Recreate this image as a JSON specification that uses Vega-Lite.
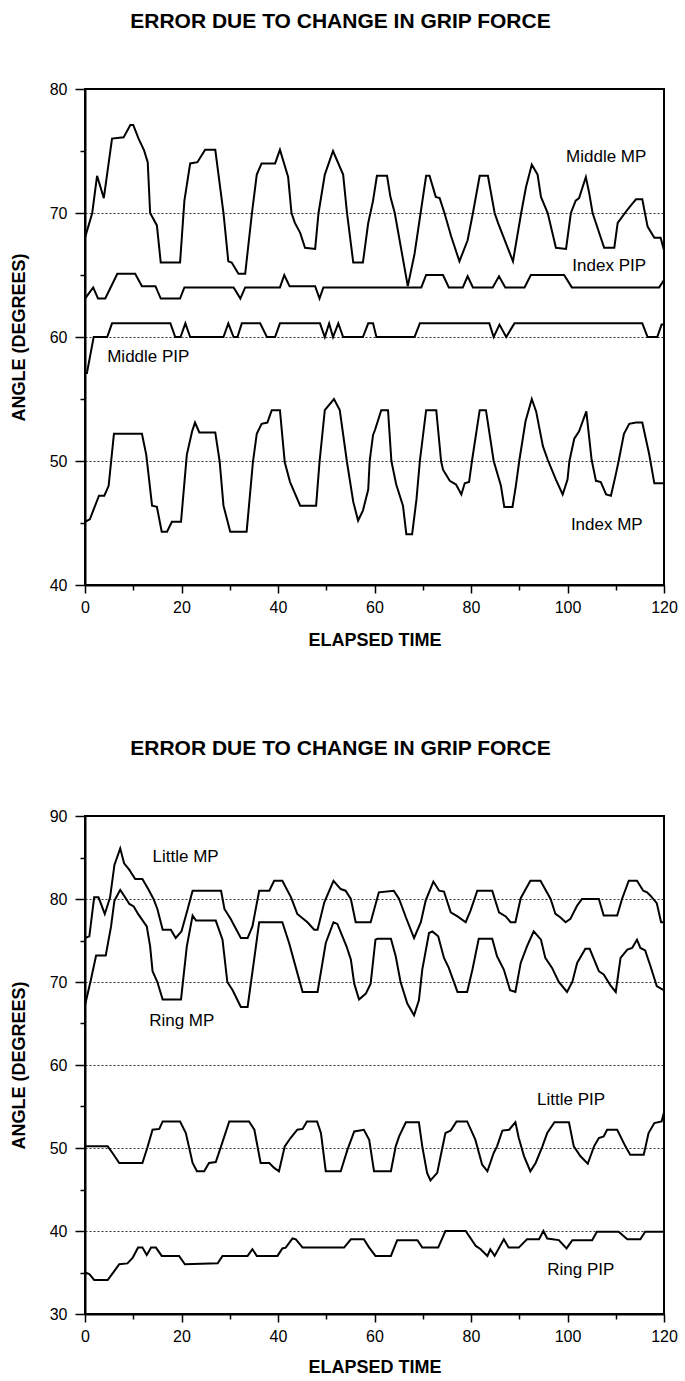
{
"$schema": "https://vega.github.io/schema/vega-lite/v6.json",
"background": "white",
"padding": {"left": 9, "top": 10, "right": 5, "bottom": 2},
"config": {
 "font": "Liberation Sans",
 "view": {"stroke": "black", "strokeWidth": 2},
 "axis": {"domainColor": "black", "domainWidth": 2, "tickColor": "black", "tickWidth": 1.5, "labelColor": "black", "titleColor": "black", "labelFontSize": 16, "labelFont": "Liberation Sans", "titleFont": "Liberation Sans", "titleFontSize": 18, "titleFontWeight": "bold", "labelFlush": false, "labelOverlap": false},
 "title": {"font": "Liberation Sans", "fontSize": 21, "fontWeight": "bold", "color": "black", "anchor": "middle", "frame": "group"}
},
"datasets": {
 "top": [
  {"s":"Middle MP","t":0,"v":68},{"s":"Middle MP","t":1.5,"v":70},{"s":"Middle MP","t":2.5,"v":73},{"s":"Middle MP","t":3.9,"v":71.2},{"s":"Middle MP","t":5.6,"v":76},{"s":"Middle MP","t":8,"v":76.1},{"s":"Middle MP","t":9.4,"v":77.1},{"s":"Middle MP","t":10,"v":77.1},{"s":"Middle MP","t":11.1,"v":76},{"s":"Middle MP","t":12.2,"v":75.1},{"s":"Middle MP","t":13,"v":74.1},{"s":"Middle MP","t":13.5,"v":70},{"s":"Middle MP","t":14.9,"v":69},{"s":"Middle MP","t":15.7,"v":66},{"s":"Middle MP","t":19.7,"v":66},{"s":"Middle MP","t":20.6,"v":71},{"s":"Middle MP","t":21.8,"v":74},{"s":"Middle MP","t":23.3,"v":74.1},{"s":"Middle MP","t":24.9,"v":75.1},{"s":"Middle MP","t":27,"v":75.1},{"s":"Middle MP","t":28.7,"v":70},{"s":"Middle MP","t":29.7,"v":66.1},{"s":"Middle MP","t":30.4,"v":66},{"s":"Middle MP","t":31.8,"v":65.1},{"s":"Middle MP","t":33.2,"v":65.1},{"s":"Middle MP","t":34.6,"v":70},{"s":"Middle MP","t":35.6,"v":73.1},{"s":"Middle MP","t":36.6,"v":74},{"s":"Middle MP","t":39.4,"v":74},{"s":"Middle MP","t":40.4,"v":75.1},{"s":"Middle MP","t":42.1,"v":72.9},{"s":"Middle MP","t":42.8,"v":70},{"s":"Middle MP","t":43.5,"v":69.2},{"s":"Middle MP","t":44.6,"v":68.4},{"s":"Middle MP","t":45.6,"v":67.2},{"s":"Middle MP","t":47.7,"v":67.1},{"s":"Middle MP","t":48.4,"v":70},{"s":"Middle MP","t":49.7,"v":73.1},{"s":"Middle MP","t":51.4,"v":75},{"s":"Middle MP","t":53.5,"v":73.1},{"s":"Middle MP","t":54.3,"v":70},{"s":"Middle MP","t":55.6,"v":66},{"s":"Middle MP","t":57.6,"v":66},{"s":"Middle MP","t":58.7,"v":69.2},{"s":"Middle MP","t":59.7,"v":71},{"s":"Middle MP","t":60.5,"v":73},{"s":"Middle MP","t":62.6,"v":73},{"s":"Middle MP","t":63.3,"v":71.3},{"s":"Middle MP","t":64.2,"v":70},{"s":"Middle MP","t":66.9,"v":64.1},{"s":"Middle MP","t":68.3,"v":66.7},{"s":"Middle MP","t":70.7,"v":73},{"s":"Middle MP","t":71.4,"v":73},{"s":"Middle MP","t":72.7,"v":71.3},{"s":"Middle MP","t":73.5,"v":71.2},{"s":"Middle MP","t":74.5,"v":70},{"s":"Middle MP","t":75.9,"v":68.1},{"s":"Middle MP","t":77.6,"v":66.1},{"s":"Middle MP","t":79.3,"v":67.8},{"s":"Middle MP","t":80.4,"v":70},{"s":"Middle MP","t":81.8,"v":73},{"s":"Middle MP","t":83.5,"v":73},{"s":"Middle MP","t":84.9,"v":70},{"s":"Middle MP","t":85.6,"v":69.2},{"s":"Middle MP","t":88.7,"v":66.1},{"s":"Middle MP","t":90.4,"v":70},{"s":"Middle MP","t":91.4,"v":72.1},{"s":"Middle MP","t":92.6,"v":73.9},{"s":"Middle MP","t":93.8,"v":73.1},{"s":"Middle MP","t":94.5,"v":71.3},{"s":"Middle MP","t":95.9,"v":70},{"s":"Middle MP","t":97.6,"v":67.2},{"s":"Middle MP","t":99.7,"v":67.1},{"s":"Middle MP","t":100.7,"v":70},{"s":"Middle MP","t":101.7,"v":71},{"s":"Middle MP","t":102.4,"v":71.2},{"s":"Middle MP","t":103.8,"v":72.9},{"s":"Middle MP","t":104.5,"v":71.6},{"s":"Middle MP","t":105.2,"v":70},{"s":"Middle MP","t":107.6,"v":67.2},{"s":"Middle MP","t":109.7,"v":67.2},{"s":"Middle MP","t":110.4,"v":69.2},{"s":"Middle MP","t":112.1,"v":70.1},{"s":"Middle MP","t":113.1,"v":70.6},{"s":"Middle MP","t":114.2,"v":71.1},{"s":"Middle MP","t":115.5,"v":71.1},{"s":"Middle MP","t":116.6,"v":68.9},{"s":"Middle MP","t":118,"v":68},{"s":"Middle MP","t":119.3,"v":68},{"s":"Middle MP","t":120,"v":67},
  {"s":"Index PIP","t":0,"v":63.1},{"s":"Index PIP","t":1.7,"v":64},{"s":"Index PIP","t":2.7,"v":63.1},{"s":"Index PIP","t":4.2,"v":63.1},{"s":"Index PIP","t":6.7,"v":65.1},{"s":"Index PIP","t":10.4,"v":65.1},{"s":"Index PIP","t":11.8,"v":64.1},{"s":"Index PIP","t":14.6,"v":64.1},{"s":"Index PIP","t":15.7,"v":63.1},{"s":"Index PIP","t":19.7,"v":63.1},{"s":"Index PIP","t":20.6,"v":64},{"s":"Index PIP","t":30.8,"v":64},{"s":"Index PIP","t":32.2,"v":63.1},{"s":"Index PIP","t":33.2,"v":64},{"s":"Index PIP","t":40.4,"v":64},{"s":"Index PIP","t":41.3,"v":65},{"s":"Index PIP","t":42.4,"v":64.1},{"s":"Index PIP","t":47.7,"v":64.1},{"s":"Index PIP","t":48.6,"v":63.1},{"s":"Index PIP","t":49.4,"v":64},{"s":"Index PIP","t":69.7,"v":64},{"s":"Index PIP","t":70.7,"v":65},{"s":"Index PIP","t":74.2,"v":65},{"s":"Index PIP","t":75.4,"v":64},{"s":"Index PIP","t":78.3,"v":64},{"s":"Index PIP","t":79.3,"v":64.9},{"s":"Index PIP","t":80.4,"v":64},{"s":"Index PIP","t":84.5,"v":64},{"s":"Index PIP","t":85.8,"v":64.9},{"s":"Index PIP","t":87.1,"v":64},{"s":"Index PIP","t":91.1,"v":64},{"s":"Index PIP","t":92.4,"v":65},{"s":"Index PIP","t":99.3,"v":65},{"s":"Index PIP","t":100.9,"v":64},{"s":"Index PIP","t":119,"v":64},{"s":"Index PIP","t":120,"v":64.6},
  {"s":"Middle PIP","t":0,"v":57.1},{"s":"Middle PIP","t":0.4,"v":57.1},{"s":"Middle PIP","t":1.8,"v":60},{"s":"Middle PIP","t":4.6,"v":60},{"s":"Middle PIP","t":5.6,"v":61.1},{"s":"Middle PIP","t":17.7,"v":61.1},{"s":"Middle PIP","t":18.7,"v":60},{"s":"Middle PIP","t":19.8,"v":60},{"s":"Middle PIP","t":20.8,"v":61.1},{"s":"Middle PIP","t":21.8,"v":60},{"s":"Middle PIP","t":28.7,"v":60},{"s":"Middle PIP","t":29.7,"v":61.1},{"s":"Middle PIP","t":30.8,"v":60},{"s":"Middle PIP","t":31.6,"v":60},{"s":"Middle PIP","t":32.5,"v":61.1},{"s":"Middle PIP","t":36.3,"v":61.1},{"s":"Middle PIP","t":37.7,"v":60},{"s":"Middle PIP","t":39.4,"v":60},{"s":"Middle PIP","t":40.4,"v":61.1},{"s":"Middle PIP","t":48.7,"v":61.1},{"s":"Middle PIP","t":49.7,"v":60},{"s":"Middle PIP","t":50.6,"v":61.1},{"s":"Middle PIP","t":51.4,"v":60},{"s":"Middle PIP","t":52.5,"v":61.1},{"s":"Middle PIP","t":53.5,"v":60},{"s":"Middle PIP","t":57.6,"v":60},{"s":"Middle PIP","t":58.7,"v":61.1},{"s":"Middle PIP","t":59.7,"v":61.1},{"s":"Middle PIP","t":60.4,"v":60},{"s":"Middle PIP","t":68.3,"v":60},{"s":"Middle PIP","t":69.4,"v":61.1},{"s":"Middle PIP","t":83.8,"v":61.1},{"s":"Middle PIP","t":84.7,"v":60},{"s":"Middle PIP","t":85.9,"v":61},{"s":"Middle PIP","t":87.3,"v":60},{"s":"Middle PIP","t":89,"v":61.1},{"s":"Middle PIP","t":115.5,"v":61.1},{"s":"Middle PIP","t":116.6,"v":60},{"s":"Middle PIP","t":118.6,"v":60},{"s":"Middle PIP","t":119.5,"v":61},{"s":"Middle PIP","t":120,"v":61},
  {"s":"Index MP","t":0,"v":45.1},{"s":"Index MP","t":1,"v":45.3},{"s":"Index MP","t":2.9,"v":47.2},{"s":"Index MP","t":4,"v":47.2},{"s":"Index MP","t":4.9,"v":48},{"s":"Index MP","t":6,"v":52.2},{"s":"Index MP","t":11.8,"v":52.2},{"s":"Index MP","t":12.7,"v":50.5},{"s":"Index MP","t":13.9,"v":46.4},{"s":"Index MP","t":14.9,"v":46.3},{"s":"Index MP","t":15.9,"v":44.3},{"s":"Index MP","t":17,"v":44.3},{"s":"Index MP","t":18,"v":45.1},{"s":"Index MP","t":19.9,"v":45.1},{"s":"Index MP","t":21.1,"v":50.5},{"s":"Index MP","t":22.2,"v":52.4},{"s":"Index MP","t":22.8,"v":53.1},{"s":"Index MP","t":23.7,"v":52.3},{"s":"Index MP","t":27,"v":52.3},{"s":"Index MP","t":27.9,"v":50},{"s":"Index MP","t":28.7,"v":46.4},{"s":"Index MP","t":30.1,"v":44.3},{"s":"Index MP","t":33.5,"v":44.3},{"s":"Index MP","t":34.8,"v":49.9},{"s":"Index MP","t":35.6,"v":52.2},{"s":"Index MP","t":36.6,"v":53},{"s":"Index MP","t":37.8,"v":53.1},{"s":"Index MP","t":38.7,"v":54.1},{"s":"Index MP","t":40.4,"v":54.1},{"s":"Index MP","t":41.4,"v":49.9},{"s":"Index MP","t":42.5,"v":48.3},{"s":"Index MP","t":44.6,"v":46.4},{"s":"Index MP","t":47.9,"v":46.4},{"s":"Index MP","t":48.6,"v":49.9},{"s":"Index MP","t":49.7,"v":54.1},{"s":"Index MP","t":51.6,"v":55},{"s":"Index MP","t":52.8,"v":54.1},{"s":"Index MP","t":54.3,"v":49.9},{"s":"Index MP","t":55.6,"v":46.7},{"s":"Index MP","t":56.6,"v":45.2},{"s":"Index MP","t":57.6,"v":46},{"s":"Index MP","t":58.7,"v":47.7},{"s":"Index MP","t":59,"v":50},{"s":"Index MP","t":59.7,"v":52.1},{"s":"Index MP","t":60.1,"v":52.5},{"s":"Index MP","t":61.4,"v":54.1},{"s":"Index MP","t":62.8,"v":54.1},{"s":"Index MP","t":63.5,"v":50},{"s":"Index MP","t":64.5,"v":48.1},{"s":"Index MP","t":65.9,"v":46.4},{"s":"Index MP","t":66.6,"v":44.1},{"s":"Index MP","t":67.8,"v":44.1},{"s":"Index MP","t":68.7,"v":46.9},{"s":"Index MP","t":69.4,"v":50},{"s":"Index MP","t":70.7,"v":54.1},{"s":"Index MP","t":72.8,"v":54.1},{"s":"Index MP","t":73.8,"v":50},{"s":"Index MP","t":74.2,"v":49.3},{"s":"Index MP","t":75.6,"v":48.4},{"s":"Index MP","t":76.9,"v":48.1},{"s":"Index MP","t":78,"v":47.3},{"s":"Index MP","t":78.7,"v":48.2},{"s":"Index MP","t":79.6,"v":48.3},{"s":"Index MP","t":80.2,"v":50},{"s":"Index MP","t":81.8,"v":54.1},{"s":"Index MP","t":83.1,"v":54.1},{"s":"Index MP","t":84.7,"v":50},{"s":"Index MP","t":86.2,"v":48},{"s":"Index MP","t":86.9,"v":46.3},{"s":"Index MP","t":88.6,"v":46.3},{"s":"Index MP","t":89.3,"v":48},{"s":"Index MP","t":90,"v":50},{"s":"Index MP","t":91.3,"v":53.2},{"s":"Index MP","t":92.6,"v":55},{"s":"Index MP","t":93.5,"v":54},{"s":"Index MP","t":94.9,"v":51.2},{"s":"Index MP","t":95.9,"v":50.1},{"s":"Index MP","t":97.6,"v":48.5},{"s":"Index MP","t":99,"v":47.3},{"s":"Index MP","t":100,"v":48.5},{"s":"Index MP","t":100.4,"v":50},{"s":"Index MP","t":101.4,"v":51.8},{"s":"Index MP","t":102.4,"v":52.4},{"s":"Index MP","t":103.9,"v":54},{"s":"Index MP","t":105,"v":50.1},{"s":"Index MP","t":105.9,"v":48.4},{"s":"Index MP","t":106.9,"v":48.3},{"s":"Index MP","t":108,"v":47.3},{"s":"Index MP","t":109,"v":47.2},{"s":"Index MP","t":110,"v":48.9},{"s":"Index MP","t":110.6,"v":50},{"s":"Index MP","t":111.7,"v":52.2},{"s":"Index MP","t":112.8,"v":53},{"s":"Index MP","t":114.2,"v":53.1},{"s":"Index MP","t":115.5,"v":53.1},{"s":"Index MP","t":116.9,"v":50.6},{"s":"Index MP","t":118,"v":48.2},{"s":"Index MP","t":120,"v":48.2}
 ],
 "topLabels": [
  {"s":"Middle MP","t":99.7,"v":74.5},{"s":"Index PIP","t":101,"v":65.7},{"s":"Middle PIP","t":4.6,"v":58.35},{"s":"Index MP","t":100.7,"v":44.85}
 ],
 "bottom": [
  {"s":"Little MP","t":0,"v":75.3},{"s":"Little MP","t":0.9,"v":75.5},{"s":"Little MP","t":1.9,"v":80.2},{"s":"Little MP","t":2.8,"v":80.2},{"s":"Little MP","t":4.1,"v":78.2},{"s":"Little MP","t":5.2,"v":80.2},{"s":"Little MP","t":6.1,"v":84.1},{"s":"Little MP","t":7.3,"v":86.1},{"s":"Little MP","t":8.1,"v":84.3},{"s":"Little MP","t":9.2,"v":83.5},{"s":"Little MP","t":10.4,"v":82.4},{"s":"Little MP","t":11.9,"v":82.4},{"s":"Little MP","t":13.1,"v":81.2},{"s":"Little MP","t":14.2,"v":80},{"s":"Little MP","t":15,"v":78.8},{"s":"Little MP","t":16.1,"v":76.3},{"s":"Little MP","t":17.8,"v":76.3},{"s":"Little MP","t":18.8,"v":75.3},{"s":"Little MP","t":20,"v":76.1},{"s":"Little MP","t":21.1,"v":78.4},{"s":"Little MP","t":22.3,"v":81},{"s":"Little MP","t":28.2,"v":81},{"s":"Little MP","t":28.9,"v":78.8},{"s":"Little MP","t":30.2,"v":77.6},{"s":"Little MP","t":32.3,"v":75.3},{"s":"Little MP","t":33.7,"v":75.3},{"s":"Little MP","t":34.7,"v":76.7},{"s":"Little MP","t":36.1,"v":81},{"s":"Little MP","t":38.2,"v":81},{"s":"Little MP","t":39.2,"v":82.2},{"s":"Little MP","t":40.9,"v":82.2},{"s":"Little MP","t":42.7,"v":80.2},{"s":"Little MP","t":44,"v":78.2},{"s":"Little MP","t":46.1,"v":77.2},{"s":"Little MP","t":47.5,"v":76.3},{"s":"Little MP","t":48.2,"v":76.3},{"s":"Little MP","t":49.6,"v":79.6},{"s":"Little MP","t":51.5,"v":82.2},{"s":"Little MP","t":53,"v":81.2},{"s":"Little MP","t":54,"v":81},{"s":"Little MP","t":55.1,"v":80},{"s":"Little MP","t":56.1,"v":77.2},{"s":"Little MP","t":59.2,"v":77.2},{"s":"Little MP","t":60.9,"v":80.8},{"s":"Little MP","t":64,"v":81},{"s":"Little MP","t":65.1,"v":80},{"s":"Little MP","t":66.5,"v":77.8},{"s":"Little MP","t":68.2,"v":75.3},{"s":"Little MP","t":69.6,"v":77.2},{"s":"Little MP","t":70.6,"v":79.8},{"s":"Little MP","t":72.2,"v":82.1},{"s":"Little MP","t":73.4,"v":81},{"s":"Little MP","t":74.4,"v":80.9},{"s":"Little MP","t":75.8,"v":78.4},{"s":"Little MP","t":77.2,"v":77.9},{"s":"Little MP","t":78.9,"v":77.2},{"s":"Little MP","t":79.9,"v":78.6},{"s":"Little MP","t":81.3,"v":81},{"s":"Little MP","t":84.4,"v":81},{"s":"Little MP","t":85.8,"v":78.4},{"s":"Little MP","t":87.2,"v":77.9},{"s":"Little MP","t":88.2,"v":77.2},{"s":"Little MP","t":89.2,"v":77.2},{"s":"Little MP","t":90.3,"v":80.1},{"s":"Little MP","t":92.3,"v":82.2},{"s":"Little MP","t":94.4,"v":82.2},{"s":"Little MP","t":96.5,"v":80},{"s":"Little MP","t":97.5,"v":78.2},{"s":"Little MP","t":98.5,"v":77.8},{"s":"Little MP","t":99.6,"v":77.2},{"s":"Little MP","t":100.6,"v":77.6},{"s":"Little MP","t":102,"v":79.2},{"s":"Little MP","t":103,"v":80},{"s":"Little MP","t":106.5,"v":80},{"s":"Little MP","t":107.5,"v":78},{"s":"Little MP","t":110.3,"v":78},{"s":"Little MP","t":111.3,"v":80},{"s":"Little MP","t":112.7,"v":82.2},{"s":"Little MP","t":114.4,"v":82.2},{"s":"Little MP","t":115.7,"v":81},{"s":"Little MP","t":116.5,"v":80.8},{"s":"Little MP","t":117.2,"v":80.4},{"s":"Little MP","t":118.5,"v":79.5},{"s":"Little MP","t":119.4,"v":77.2},{"s":"Little MP","t":120,"v":77.2},
  {"s":"Ring MP","t":0,"v":67.2},{"s":"Ring MP","t":1.2,"v":70.2},{"s":"Ring MP","t":2.3,"v":73.2},{"s":"Ring MP","t":4.3,"v":73.2},{"s":"Ring MP","t":5.4,"v":76.7},{"s":"Ring MP","t":6.1,"v":79.8},{"s":"Ring MP","t":7.3,"v":81.1},{"s":"Ring MP","t":8.1,"v":80.4},{"s":"Ring MP","t":9.2,"v":79.4},{"s":"Ring MP","t":10.1,"v":79.1},{"s":"Ring MP","t":11,"v":78.2},{"s":"Ring MP","t":12.8,"v":76.7},{"s":"Ring MP","t":13.5,"v":74.3},{"s":"Ring MP","t":14,"v":71.3},{"s":"Ring MP","t":15,"v":70},{"s":"Ring MP","t":16.1,"v":67.9},{"s":"Ring MP","t":19.9,"v":67.9},{"s":"Ring MP","t":21.1,"v":74.3},{"s":"Ring MP","t":22.3,"v":78},{"s":"Ring MP","t":23,"v":77.4},{"s":"Ring MP","t":27.1,"v":77.4},{"s":"Ring MP","t":28.5,"v":75.1},{"s":"Ring MP","t":29.5,"v":70},{"s":"Ring MP","t":30.6,"v":69},{"s":"Ring MP","t":32.3,"v":67},{"s":"Ring MP","t":33.7,"v":67},{"s":"Ring MP","t":35.1,"v":72.9},{"s":"Ring MP","t":36.1,"v":77.2},{"s":"Ring MP","t":40.9,"v":77.2},{"s":"Ring MP","t":42.3,"v":74.7},{"s":"Ring MP","t":44,"v":71.1},{"s":"Ring MP","t":45.1,"v":68.8},{"s":"Ring MP","t":48.2,"v":68.8},{"s":"Ring MP","t":49.9,"v":74.7},{"s":"Ring MP","t":51.5,"v":77.2},{"s":"Ring MP","t":52.3,"v":77},{"s":"Ring MP","t":54.2,"v":74.3},{"s":"Ring MP","t":55.1,"v":72.7},{"s":"Ring MP","t":55.8,"v":69.8},{"s":"Ring MP","t":56.8,"v":67.9},{"s":"Ring MP","t":58.2,"v":68.6},{"s":"Ring MP","t":59.2,"v":69.8},{"s":"Ring MP","t":60.2,"v":75.1},{"s":"Ring MP","t":60.6,"v":75.2},{"s":"Ring MP","t":63.4,"v":75.2},{"s":"Ring MP","t":64.4,"v":73.1},{"s":"Ring MP","t":65.4,"v":70},{"s":"Ring MP","t":66.8,"v":67.4},{"s":"Ring MP","t":68.2,"v":66},{"s":"Ring MP","t":69.2,"v":67.8},{"s":"Ring MP","t":69.9,"v":71.5},{"s":"Ring MP","t":71.3,"v":75.9},{"s":"Ring MP","t":72,"v":76.1},{"s":"Ring MP","t":73.2,"v":75.5},{"s":"Ring MP","t":74.4,"v":72.9},{"s":"Ring MP","t":75.4,"v":71.7},{"s":"Ring MP","t":77.2,"v":68.8},{"s":"Ring MP","t":79.2,"v":68.8},{"s":"Ring MP","t":80.3,"v":71.5},{"s":"Ring MP","t":81.6,"v":75.2},{"s":"Ring MP","t":84.4,"v":75.2},{"s":"Ring MP","t":85.4,"v":73.1},{"s":"Ring MP","t":86.8,"v":71.5},{"s":"Ring MP","t":88.1,"v":69},{"s":"Ring MP","t":89.2,"v":68.8},{"s":"Ring MP","t":90.3,"v":72.3},{"s":"Ring MP","t":91.6,"v":74.3},{"s":"Ring MP","t":93,"v":76.1},{"s":"Ring MP","t":94.5,"v":75.1},{"s":"Ring MP","t":95.4,"v":72.9},{"s":"Ring MP","t":96.8,"v":71.7},{"s":"Ring MP","t":98.2,"v":70},{"s":"Ring MP","t":99.9,"v":68.8},{"s":"Ring MP","t":101,"v":70},{"s":"Ring MP","t":102,"v":72.3},{"s":"Ring MP","t":103.7,"v":74},{"s":"Ring MP","t":104.6,"v":74},{"s":"Ring MP","t":106.5,"v":71.3},{"s":"Ring MP","t":107.5,"v":70.9},{"s":"Ring MP","t":108.9,"v":69.6},{"s":"Ring MP","t":110,"v":68.8},{"s":"Ring MP","t":111,"v":72.9},{"s":"Ring MP","t":112.4,"v":73.9},{"s":"Ring MP","t":113.4,"v":74.1},{"s":"Ring MP","t":114.4,"v":75.1},{"s":"Ring MP","t":115.1,"v":74.1},{"s":"Ring MP","t":116.1,"v":73.8},{"s":"Ring MP","t":117.2,"v":71.9},{"s":"Ring MP","t":118.5,"v":69.5},{"s":"Ring MP","t":120,"v":69},
  {"s":"Little PIP","t":0,"v":50.2},{"s":"Little PIP","t":4.7,"v":50.2},{"s":"Little PIP","t":5.7,"v":49.4},{"s":"Little PIP","t":7.1,"v":48.2},{"s":"Little PIP","t":11.9,"v":48.2},{"s":"Little PIP","t":12.9,"v":50},{"s":"Little PIP","t":14,"v":52.2},{"s":"Little PIP","t":15.4,"v":52.3},{"s":"Little PIP","t":16.1,"v":53.2},{"s":"Little PIP","t":19.7,"v":53.2},{"s":"Little PIP","t":20.9,"v":51.8},{"s":"Little PIP","t":22.3,"v":48.2},{"s":"Little PIP","t":23.2,"v":47.2},{"s":"Little PIP","t":24.7,"v":47.2},{"s":"Little PIP","t":25.7,"v":48.2},{"s":"Little PIP","t":27.1,"v":48.3},{"s":"Little PIP","t":28.2,"v":50.2},{"s":"Little PIP","t":29.9,"v":53.2},{"s":"Little PIP","t":34,"v":53.2},{"s":"Little PIP","t":35.1,"v":52.2},{"s":"Little PIP","t":36.4,"v":48.2},{"s":"Little PIP","t":38.2,"v":48.2},{"s":"Little PIP","t":39.2,"v":47.6},{"s":"Little PIP","t":40.2,"v":47.2},{"s":"Little PIP","t":41.4,"v":50.2},{"s":"Little PIP","t":42.6,"v":51.2},{"s":"Little PIP","t":44,"v":52.2},{"s":"Little PIP","t":45.1,"v":52.3},{"s":"Little PIP","t":46,"v":53.2},{"s":"Little PIP","t":48.1,"v":53.2},{"s":"Little PIP","t":48.9,"v":51.8},{"s":"Little PIP","t":49.9,"v":47.2},{"s":"Little PIP","t":53,"v":47.2},{"s":"Little PIP","t":54.4,"v":49.8},{"s":"Little PIP","t":55.8,"v":52},{"s":"Little PIP","t":57.8,"v":52.2},{"s":"Little PIP","t":58.9,"v":51},{"s":"Little PIP","t":59.9,"v":47.2},{"s":"Little PIP","t":63.4,"v":47.2},{"s":"Little PIP","t":64.4,"v":50.2},{"s":"Little PIP","t":65.1,"v":51.4},{"s":"Little PIP","t":66.5,"v":53.1},{"s":"Little PIP","t":69.2,"v":53.1},{"s":"Little PIP","t":69.9,"v":50.2},{"s":"Little PIP","t":70.9,"v":47},{"s":"Little PIP","t":71.6,"v":46.1},{"s":"Little PIP","t":73,"v":47},{"s":"Little PIP","t":73.7,"v":49},{"s":"Little PIP","t":74.7,"v":51.8},{"s":"Little PIP","t":75.8,"v":52.1},{"s":"Little PIP","t":77,"v":53.2},{"s":"Little PIP","t":79.2,"v":53.2},{"s":"Little PIP","t":80.9,"v":51},{"s":"Little PIP","t":82.3,"v":48},{"s":"Little PIP","t":83.4,"v":47.2},{"s":"Little PIP","t":84.7,"v":49.4},{"s":"Little PIP","t":85.4,"v":50.2},{"s":"Little PIP","t":86.5,"v":52.1},{"s":"Little PIP","t":87.9,"v":52.2},{"s":"Little PIP","t":89.2,"v":53.1},{"s":"Little PIP","t":89.9,"v":51.2},{"s":"Little PIP","t":91,"v":49},{"s":"Little PIP","t":92.3,"v":47.2},{"s":"Little PIP","t":93.4,"v":48.2},{"s":"Little PIP","t":94.8,"v":50.2},{"s":"Little PIP","t":95.8,"v":51.8},{"s":"Little PIP","t":97.3,"v":53.1},{"s":"Little PIP","t":100.3,"v":53.1},{"s":"Little PIP","t":101.3,"v":50.2},{"s":"Little PIP","t":102.7,"v":49},{"s":"Little PIP","t":104.2,"v":48.1},{"s":"Little PIP","t":105.5,"v":50.2},{"s":"Little PIP","t":106.5,"v":51.2},{"s":"Little PIP","t":107.5,"v":51.4},{"s":"Little PIP","t":108.2,"v":52.2},{"s":"Little PIP","t":110.3,"v":52.2},{"s":"Little PIP","t":112,"v":50.2},{"s":"Little PIP","t":113,"v":49.2},{"s":"Little PIP","t":115.8,"v":49.2},{"s":"Little PIP","t":116.8,"v":51.8},{"s":"Little PIP","t":118,"v":53},{"s":"Little PIP","t":119.5,"v":53.2},{"s":"Little PIP","t":120,"v":54.3},
  {"s":"Ring PIP","t":0,"v":35},{"s":"Ring PIP","t":0.9,"v":34.8},{"s":"Ring PIP","t":1.9,"v":34.1},{"s":"Ring PIP","t":4.7,"v":34.1},{"s":"Ring PIP","t":6.1,"v":35.2},{"s":"Ring PIP","t":7.1,"v":36},{"s":"Ring PIP","t":8.8,"v":36.1},{"s":"Ring PIP","t":9.9,"v":36.8},{"s":"Ring PIP","t":11,"v":38},{"s":"Ring PIP","t":11.9,"v":38},{"s":"Ring PIP","t":12.8,"v":37.1},{"s":"Ring PIP","t":13.7,"v":38},{"s":"Ring PIP","t":14.7,"v":38},{"s":"Ring PIP","t":15.9,"v":37},{"s":"Ring PIP","t":19.5,"v":37},{"s":"Ring PIP","t":20.7,"v":36},{"s":"Ring PIP","t":27.5,"v":36.1},{"s":"Ring PIP","t":28.5,"v":37},{"s":"Ring PIP","t":33.7,"v":37},{"s":"Ring PIP","t":34.7,"v":37.8},{"s":"Ring PIP","t":35.6,"v":37},{"s":"Ring PIP","t":39.9,"v":37},{"s":"Ring PIP","t":40.9,"v":37.9},{"s":"Ring PIP","t":41.6,"v":38},{"s":"Ring PIP","t":43,"v":39.1},{"s":"Ring PIP","t":43.7,"v":39},{"s":"Ring PIP","t":45.1,"v":38},{"s":"Ring PIP","t":53.7,"v":38},{"s":"Ring PIP","t":55.1,"v":39},{"s":"Ring PIP","t":57.8,"v":39},{"s":"Ring PIP","t":58.9,"v":38},{"s":"Ring PIP","t":60.2,"v":37},{"s":"Ring PIP","t":63.4,"v":37},{"s":"Ring PIP","t":64.7,"v":38.9},{"s":"Ring PIP","t":68.9,"v":38.9},{"s":"Ring PIP","t":69.9,"v":38},{"s":"Ring PIP","t":73.2,"v":38},{"s":"Ring PIP","t":74.7,"v":40},{"s":"Ring PIP","t":78.9,"v":40},{"s":"Ring PIP","t":81,"v":38.2},{"s":"Ring PIP","t":82,"v":37.8},{"s":"Ring PIP","t":83.4,"v":37},{"s":"Ring PIP","t":84,"v":37.8},{"s":"Ring PIP","t":84.9,"v":37},{"s":"Ring PIP","t":86.8,"v":39},{"s":"Ring PIP","t":87.8,"v":38},{"s":"Ring PIP","t":89.9,"v":38},{"s":"Ring PIP","t":91.6,"v":39},{"s":"Ring PIP","t":94.1,"v":39},{"s":"Ring PIP","t":95,"v":40},{"s":"Ring PIP","t":95.8,"v":39.1},{"s":"Ring PIP","t":98.2,"v":38.9},{"s":"Ring PIP","t":99.8,"v":37.9},{"s":"Ring PIP","t":101,"v":38.9},{"s":"Ring PIP","t":105.1,"v":38.9},{"s":"Ring PIP","t":106.1,"v":39.9},{"s":"Ring PIP","t":110.6,"v":39.9},{"s":"Ring PIP","t":112.4,"v":39},{"s":"Ring PIP","t":115.1,"v":39},{"s":"Ring PIP","t":116.1,"v":39.9},{"s":"Ring PIP","t":120,"v":39.9}
 ],
 "bottomLabels": [
  {"s":"Little MP","t":14,"v":85.1},{"s":"Ring MP","t":13.3,"v":65.3},{"s":"Little PIP","t":93.7,"v":55.8},{"s":"Ring PIP","t":95.8,"v":35.3}
 ]
},
"spacing": 87,
"vconcat": [
 {
  "width": 579, "height": 496,
  "title": {"text": "ERROR DUE TO CHANGE IN GRIP FORCE", "offset": 49, "dx": -34},
  "layer": [
   {"data": {"name": "top"}, "mark": {"type": "line", "color": "black", "strokeWidth": 2},
    "encoding": {
     "x": {"field": "t", "type": "quantitative", "scale": {"domain": [0, 120], "nice": false, "zero": false}, "title": "ELAPSED TIME",
       "axis": {"values": [0,10,20,30,40,50,60,70,80,90,100,110,120], "labelExpr": "datum.value % 20 === 0 ? datum.label : ''", "tickSize": {"condition": {"test": "datum.value % 20 === 0", "value": 8}, "value": 5}, "grid": false, "labelPadding": 6, "titlePadding": 16}},
     "y": {"field": "v", "type": "quantitative", "scale": {"domain": [40, 80], "nice": false, "zero": false}, "title": "ANGLE (DEGREES)",
       "axis": {"values": [40,45,50,55,60,65,70,75,80], "labelExpr": "datum.value % 10 === 0 ? datum.label : ''", "tickSize": {"condition": {"test": "datum.value % 10 === 0", "value": 10}, "value": 5}, "grid": true, "gridColor": "#333", "gridDash": [2, 2], "gridWidth": 1.2, "gridOpacity": {"condition": {"test": "datum.value % 10 === 0 && datum.value > 40 && datum.value < 80", "value": 1}, "value": 0}, "labelPadding": 8, "titlePadding": 21}},
     "detail": {"field": "s"}
    }},
   {"data": {"name": "topLabels"}, "mark": {"type": "text", "align": "left", "baseline": "middle", "fontSize": 17, "color": "black"},
    "encoding": {"x": {"field": "t", "type": "quantitative"}, "y": {"field": "v", "type": "quantitative"}, "text": {"field": "s"}}}
  ]
 },
 {
  "width": 579, "height": 498,
  "title": {"text": "ERROR DUE TO CHANGE IN GRIP FORCE", "offset": 49, "dx": -34},
  "layer": [
   {"data": {"name": "bottom"}, "mark": {"type": "line", "color": "black", "strokeWidth": 2},
    "encoding": {
     "x": {"field": "t", "type": "quantitative", "scale": {"domain": [0, 120], "nice": false, "zero": false}, "title": "ELAPSED TIME",
       "axis": {"values": [0,10,20,30,40,50,60,70,80,90,100,110,120], "labelExpr": "datum.value % 20 === 0 ? datum.label : ''", "tickSize": {"condition": {"test": "datum.value % 20 === 0", "value": 8}, "value": 5}, "grid": false, "labelPadding": 6, "titlePadding": 14}},
     "y": {"field": "v", "type": "quantitative", "scale": {"domain": [30, 90], "nice": false, "zero": false}, "title": "ANGLE (DEGREES)",
       "axis": {"values": [30,35,40,45,50,55,60,65,70,75,80,85,90], "labelExpr": "datum.value % 10 === 0 ? datum.label : ''", "tickSize": {"condition": {"test": "datum.value % 10 === 0", "value": 10}, "value": 5}, "grid": true, "gridColor": "#333", "gridDash": [2, 2], "gridWidth": 1.2, "gridOpacity": {"condition": {"test": "datum.value % 10 === 0 && datum.value > 30 && datum.value < 90", "value": 1}, "value": 0}, "labelPadding": 8, "titlePadding": 21}},
     "detail": {"field": "s"}
    }},
   {"data": {"name": "bottomLabels"}, "mark": {"type": "text", "align": "left", "baseline": "middle", "fontSize": 17, "color": "black"},
    "encoding": {"x": {"field": "t", "type": "quantitative"}, "y": {"field": "v", "type": "quantitative"}, "text": {"field": "s"}}}
  ]
 }
]
}
